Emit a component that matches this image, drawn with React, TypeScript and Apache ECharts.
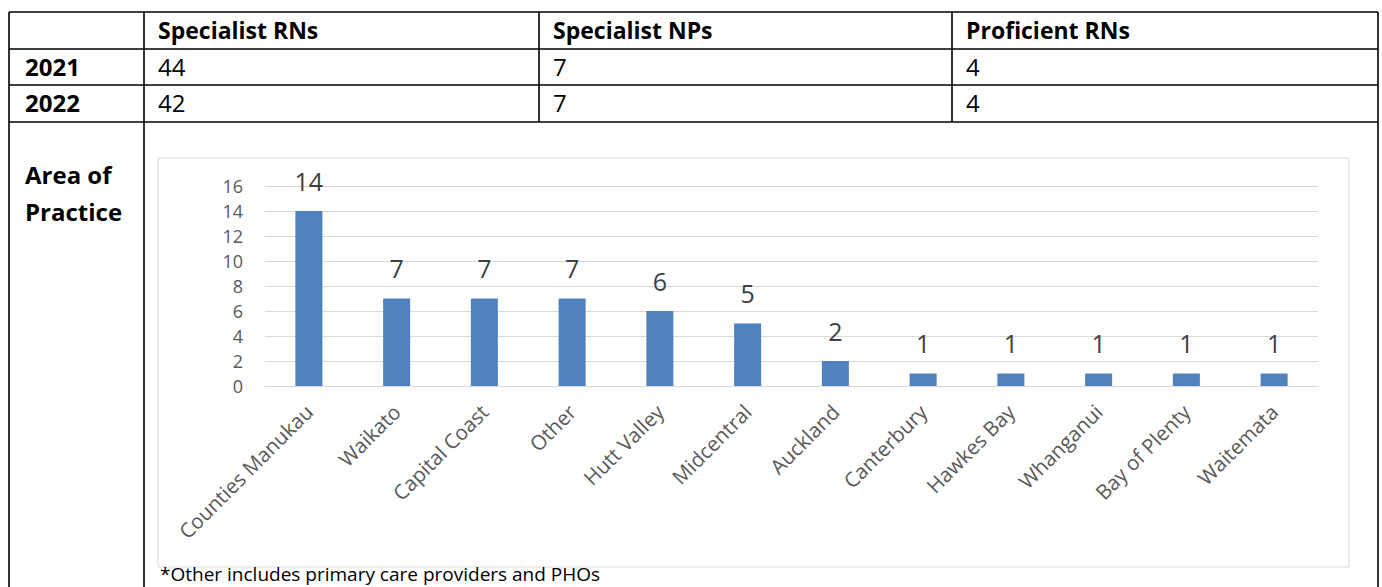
import React, { useEffect, useRef } from "react";
import * as echarts from "echarts";

const columnHeaders = ["Specialist RNs", "Specialist NPs", "Proficient RNs"];
const years = ["2021", "2022"];
const counts2021 = ["44", "7", "4"];
const counts2022 = ["42", "7", "4"];
const rowTitle = ["Area of", "Practice"];
const categories = [
  "Counties Manukau",
  "Waikato",
  "Capital Coast",
  "Other",
  "Hutt Valley",
  "Midcentral",
  "Auckland",
  "Canterbury",
  "Hawkes Bay",
  "Whanganui",
  "Bay of Plenty",
  "Waitemata",
];
const values = [14, 7, 7, 7, 6, 5, 2, 1, 1, 1, 1, 1];
const footnote = "*Other includes primary care providers and PHOs";

const FONT = "'Open Sans', 'Noto Sans', sans-serif";

export default function App() {
  const ref = useRef<HTMLDivElement>(null);
  useEffect(() => {
    const chart = echarts.init(ref.current!, null, { renderer: "svg" });
    const colX = [9, 144, 539, 952, 1378];
    const rowY = [12, 49, 85, 122];
    const B = "#000";
    const lw = 1.6;
    const graphics: any[] = [];
    rowY.forEach((y) => {
      graphics.push({
        type: "line",
        shape: { x1: colX[0], y1: y, x2: colX[4], y2: y },
        style: { stroke: B, lineWidth: lw },
        silent: true,
      });
    });
    [colX[0], colX[1], colX[4]].forEach((x) => {
      graphics.push({
        type: "line",
        shape: { x1: x, y1: rowY[0], x2: x, y2: 600 },
        style: { stroke: B, lineWidth: lw },
        silent: true,
      });
    });
    [colX[2], colX[3]].forEach((x) => {
      graphics.push({
        type: "line",
        shape: { x1: x, y1: rowY[0], x2: x, y2: rowY[3] },
        style: { stroke: B, lineWidth: lw },
        silent: true,
      });
    });
    columnHeaders.forEach((h, i) => {
      graphics.push({
        type: "text",
        x: colX[i + 1] + 14,
        y: (rowY[0] + rowY[1]) / 2 - 1,
        style: { text: h, font: `bold 23px ${FONT}`, fill: "#000", verticalAlign: "middle" },
        silent: true,
      });
    });
    const rows = [counts2021, counts2022];
    years.forEach((yr, r) => {
      const cy = (rowY[r + 1] + rowY[r + 2]) / 2 - 1;
      graphics.push({
        type: "text",
        x: 25,
        y: cy,
        style: { text: yr, font: `bold 24px ${FONT}`, fill: "#000", verticalAlign: "middle" },
        silent: true,
      });
      rows[r].forEach((v, i) => {
        graphics.push({
          type: "text",
          x: colX[i + 1] + 14,
          y: cy,
          style: { text: v, font: `24px ${FONT}`, fill: "#000", verticalAlign: "middle" },
          silent: true,
        });
      });
    });
    rowTitle.forEach((t, i) => {
      graphics.push({
        type: "text",
        x: 25,
        y: 174 + i * 37,
        style: { text: t, font: `bold 24px ${FONT}`, fill: "#000", verticalAlign: "middle" },
        silent: true,
      });
    });
    graphics.push({
      type: "rect",
      shape: { x: 158, y: 158, width: 1191, height: 409 },
      style: { fill: "none", stroke: "#d9d9d9", lineWidth: 1 },
      silent: true,
      z: -1,
    });
    graphics.push({
      type: "text",
      x: 160,
      y: 574,
      style: { text: footnote, font: `19px ${FONT}`, fill: "#000", verticalAlign: "middle" },
      silent: true,
    });

    chart.setOption({
      animation: false,
      backgroundColor: "#fff",
      grid: { left: 265, top: 186, right: 64, bottom: 201, containLabel: false },
      xAxis: {
        type: "category",
        data: categories,
        axisLine: { show: true, lineStyle: { color: "#d9d9d9", width: 1 } },
        axisTick: { show: false },
        axisLabel: {
          rotate: 45,
          interval: 0,
          margin: 22,
          color: "#595959",
          fontFamily: FONT,
          fontSize: 20.5,
        },
      },
      yAxis: {
        type: "value",
        min: 0,
        max: 16,
        interval: 2,
        axisLine: { show: false },
        axisTick: { show: false },
        splitLine: { lineStyle: { color: "#d9d9d9", width: 1 } },
        axisLabel: { color: "#595959", fontFamily: FONT, fontSize: 18, margin: 22 },
      },
      series: [
        {
          type: "bar",
          data: values,
          barWidth: 27,
          itemStyle: { color: "#4f81bd" },
          label: {
            show: true,
            position: "top",
            distance: 18,
            color: "#404040",
            fontFamily: FONT,
            fontSize: 25,
          },
        },
      ],
      graphic: graphics,
    });
    return () => chart.dispose();
  }, []);
  return (
    <div
      ref={ref}
      style={{ position: "absolute", left: 0, top: 0, width: 1382, height: 587, background: "#fff" }}
    />
  );
}
